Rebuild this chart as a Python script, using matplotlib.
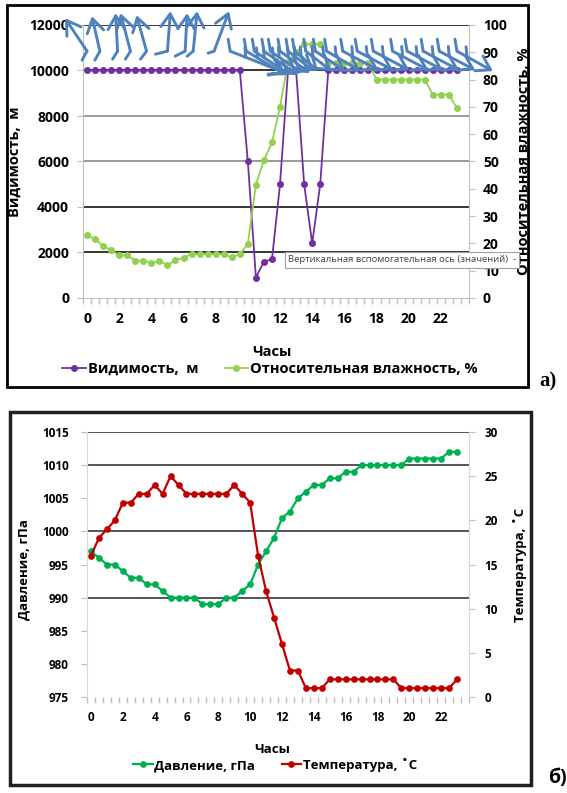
import matplotlib
matplotlib.use('Agg')
import matplotlib.pyplot as plt
from matplotlib.transforms import offset_copy
from matplotlib.patches import Rectangle
from matplotlib.lines import Line2D
import numpy as np

plt.rcParams['font.family'] = ['Open Sans', 'DejaVu Sans']

# half-hourly categories 0 .. 23
hours = np.arange(0, 23.01, 0.5)

# --- panel a) ---
visibility = [10000] * 20 + [6000, 900, 1600, 1700, 5000, 10000, 10000, 5000, 2400, 5000] + [10000] * 17
humidity = [23.1, 21.6, 19.1, 17.6, 15.6, 15.6, 13.7, 13.7, 12.7, 13.7,
            12.0, 13.9, 14.7, 16.1, 16.1, 16.1, 16.1, 16.1, 14.9, 16.1,
            19.8, 41.5, 50.5, 57, 70, 86.5, 90, 93, 93, 93,
            86, 86, 86, 86, 86, 86, 80, 80, 80, 80,
            80, 80, 80, 74.5, 74.5, 74.5, 69.5]

# wind arrows: hour of tail, arrow vector (px), hook vector (px)
wind1_hours = [0, 0.8, 1.9, 2.7, 3.7, 5.0, 6.1, 6.6, 7.9]
wind1_vec = [(-22, 33), (-8, 35), (-2, 38), (-10, 38), (-10, 36), (3, 40), (2, 38), (4, 40), (15, 40)]
wind1_hook = [(-5, -9), (-5, -9), (-5, -8), (-5, -8), (-6, -8), (-12, -3), (-10, -5), (-6, -5), (-6, -2)]
wind2_hours = [8.9, 9.9, 10.4, 11.0, 11.4, 12.0, 12.5, 12.9, 13.6, 14.2,
               14.9, 15.9, 16.8, 17.8, 19.0, 19.9, 20.9, 21.9, 23.0]
wind2_vec = [(56, -22), (40, -24), (36, -24), (34, -24), (32, -22), (30, -22), (26, -20), (24, -20), (26, -20), (30, -20),
             (34, -20), (36, -19), (36, -19), (36, -19), (36, -19), (36, -19), (36, -19), (36, -19), (36, -20)]
wind_base = 10850

# --- panel б) ---
pressure = [997, 996, 995, 995, 994, 993, 993, 992, 992, 991,
            990, 990, 990, 990, 989, 989, 989, 990, 990, 991,
            992, 995, 997, 999, 1002, 1003, 1005, 1006, 1007, 1007,
            1008, 1008, 1009, 1009, 1010, 1010, 1010, 1010, 1010, 1010,
            1011, 1011, 1011, 1011, 1011, 1012, 1012]
temperature = [16, 18, 19, 20, 22, 22, 23, 23, 24, 23,
               25, 24, 23, 23, 23, 23, 23, 23, 24, 23,
               22, 16, 12, 9, 6, 3, 3, 1, 1, 1,
               2, 2, 2, 2, 2, 2, 2, 2, 2, 1,
               1, 1, 1, 1, 1, 1, 2]
grid_b = [990, 1000, 1010, 1015]

xticks = list(range(0, 23, 2))

PURPLE = '#7030A0'
LGREEN = '#92D050'
GREEN = '#00B050'
RED = '#C00000'
WIND = '#4F81BD'
AXC = '#BFBFBF'

W, H = 567, 793
fig = plt.figure(figsize=(W / 100, H / 100), dpi=100)


def px_axes(l, t, r, b):
    return fig.add_axes([l / W, 1 - b / H, (r - l) / W, (b - t) / H])


def style_x(ax, fs):
    ax.set_xlim(-0.25, 23.75)
    ax.set_xticks(xticks)
    ax.set_xticklabels([str(x) for x in xticks], fontsize=fs, fontweight='bold')
    ax.set_xticks(np.arange(-0.25, 23.8, 0.5), minor=True)
    ax.tick_params(axis='x', which='major', length=0, pad=10)
    ax.tick_params(axis='x', which='minor', length=4, color=AXC, width=1)


# ================= panel a =================
ax1 = px_axes(83, 25, 469, 298)
ax1r = ax1.twinx()

ax1.plot(hours, visibility, color=PURPLE, lw=1.3, marker='o', ms=4, zorder=3)
ax1r.plot(hours, humidity, color=LGREEN, lw=1.3, marker='o', ms=4)

style_x(ax1, 10)
ax1.set_ylim(0, 12000)
ax1.set_yticks(range(0, 12001, 2000))
ax1.set_yticklabels([str(v) for v in range(0, 12001, 2000)], fontsize=10, fontweight='bold')
ax1.tick_params(axis='y', length=4, color=AXC, pad=6)
ax1.yaxis.grid(True, color='black', lw=1.1)
for i, gl in enumerate(ax1.get_ygridlines()):
    if i == 0:
        gl.set_visible(False)
    elif i in (3, 4):
        gl.set_color('#7F7F7F')
ax1.set_axisbelow(True)

ax1r.set_ylim(0, 100)
ax1r.set_yticks(range(0, 101, 10))
ax1r.set_yticklabels([str(v) for v in range(0, 101, 10)], fontsize=10, fontweight='bold')
ax1r.tick_params(axis='y', length=4, color=AXC, pad=6)

for a in (ax1, ax1r):
    for s in a.spines.values():
        s.set_visible(False)
ax1.spines['left'].set_visible(True)
ax1.spines['left'].set_color(AXC)
ax1.spines['bottom'].set_visible(True)
ax1.spines['bottom'].set_color(AXC)
ax1r.spines['right'].set_visible(True)
ax1r.spines['right'].set_color(AXC)

ax1.set_ylabel('Видимость,  м', fontsize=10.5, fontweight='bold')
ax1.yaxis.set_label_coords(-0.158, 0.5)
ax1r.set_ylabel('Относительная влажность, %', fontsize=10.5, fontweight='bold', rotation=90)
ax1r.yaxis.set_label_coords(1.125, 0.5)
ax1.set_xlabel('Часы', fontsize=10.5, fontweight='bold')
ax1.xaxis.set_label_coords(0.49, -0.172)


def stroke(h, v, p0, p1, head=False):
    t0 = offset_copy(ax1.transData, x=p0[0], y=p0[1], units='dots')
    t1 = offset_copy(ax1.transData, x=p1[0], y=p1[1], units='dots')
    style = '->,head_length=0.6,head_width=0.38' if head else '-'
    ax1r.annotate('', xy=(h, v), xycoords=t1, xytext=(h, v), textcoords=t0,
                  arrowprops=dict(arrowstyle=style, color=WIND, lw=2.1,
                                  shrinkA=0, shrinkB=0, mutation_scale=16),
                  annotation_clip=False, zorder=6)


for h, vec, hook in zip(wind1_hours, wind1_vec, wind1_hook):
    stroke(h, wind_base, (0, 0), vec, head=True)
    stroke(h, wind_base, (0, 0), hook)

for h, vec in zip(wind2_hours, wind2_vec):
    stroke(h, wind_base, (0, 0), vec, head=True)
    stroke(h, wind_base, (0, 0), (-2, 12))
    bx, by = vec[0] * 0.28, vec[1] * 0.28
    stroke(h, wind_base, (bx, by), (bx - 1, by + 10))

h1 = [Line2D([], [], color=PURPLE, lw=1.3, marker='o', ms=4),
      Line2D([], [], color=LGREEN, lw=1.3, marker='o', ms=4)]
ax1.legend(h1, ['Видимость,  м', 'Относительная влажность, %'], loc='center',
           bbox_to_anchor=(270 / W, 1 - 369 / H), bbox_transform=fig.transFigure,
           ncol=2, frameon=False, numpoints=1, handlelength=1.6, handletextpad=0.15,
           columnspacing=1.8, prop=dict(size=10.5, weight='bold'))

fig.text(288 / W, 1 - 260 / H, 'Вертикальная вспомогательная ось (значений)  -',
         fontsize=6.8, color='#404040', va='center', ha='left', family='Open Sans',
         bbox=dict(boxstyle='square,pad=0.35', fc='white', ec='#A0A0A0', lw=0.8), zorder=10)

fig.patches.append(Rectangle((7 / W, 1 - 387 / H), 521 / W, 382 / H, transform=fig.transFigure,
                             fill=False, lw=2, ec='black'))
fig.text(548 / W, 1 - 381 / H, 'а)', fontsize=15, fontweight='bold', family='Liberation Serif',
         ha='center', va='center')

# ================= panel б =================
ax2 = px_axes(87, 432, 469, 697)
ax2r = ax2.twinx()

ax2.plot(hours, pressure, color=GREEN, lw=1.6, marker='o', ms=3.8, zorder=3)
ax2r.plot(hours, temperature, color=RED, lw=1.6, marker='o', ms=3.8)

style_x(ax2, 8.5)
ax2.set_ylim(975, 1015)
ax2.set_yticks(range(975, 1016, 5))
ax2.set_yticklabels([str(v) for v in range(975, 1016, 5)], fontsize=8.5, fontweight='bold')
ax2.tick_params(axis='y', length=4, color=AXC, pad=9)
for g in grid_b:
    ax2.axhline(g, color='#262626', lw=1.1, zorder=1)

ax2r.set_ylim(0, 30)
ax2r.set_yticks(range(0, 31, 5))
ax2r.set_yticklabels([str(v) for v in range(0, 31, 5)], fontsize=8.5, fontweight='bold')
ax2r.tick_params(axis='y', length=4, color=AXC, pad=7)

for a in (ax2, ax2r):
    for s in a.spines.values():
        s.set_visible(False)
ax2.spines['left'].set_visible(True)
ax2.spines['left'].set_color('#D9D9D9')
ax2r.spines['right'].set_visible(True)
ax2r.spines['right'].set_color('#D9D9D9')

ax2.set_ylabel('Давление, гПа', fontsize=9.5, fontweight='bold')
ax2.yaxis.set_label_coords(-0.149, 0.48)
ax2r.set_ylabel('Температура, ˚С', fontsize=9.5, fontweight='bold', rotation=90)
ax2r.yaxis.set_label_coords(1.115, 0.5)
ax2.set_xlabel('Часы', fontsize=9.5, fontweight='bold')
ax2.xaxis.set_label_coords(0.484, -0.174)

h2 = [Line2D([], [], color=GREEN, lw=1.6, marker='o', ms=3.8),
      Line2D([], [], color=RED, lw=1.6, marker='o', ms=3.8)]
ax2.legend(h2, ['Давление, гПа', 'Температура, ˚С'], loc='center',
           bbox_to_anchor=(275 / W, 1 - 765 / H), bbox_transform=fig.transFigure,
           ncol=2, frameon=False, numpoints=1, handlelength=1.5, handletextpad=0.1,
           columnspacing=2.0, prop=dict(size=9.5, weight='bold'))

fig.patches.append(Rectangle((10 / W, 1 - 785 / H), 521 / W, 373 / H, transform=fig.transFigure,
                             fill=False, lw=2.5, ec='#202020'))
fig.text(557 / W, 1 - 778 / H, 'б)', fontsize=14, fontweight='bold', ha='center', va='center')

fig.savefig('out.png', dpi=100)
